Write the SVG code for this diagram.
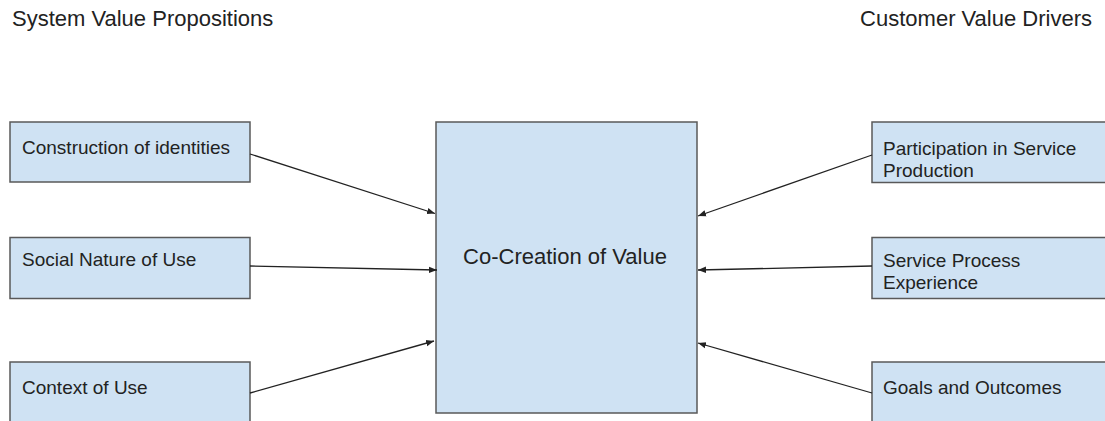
<svg xmlns="http://www.w3.org/2000/svg" width="1105" height="421" viewBox="0 0 1105 421">
<style>
.box{fill:#cfe2f3;stroke:#595959;stroke-width:1.5}
.t{font-family:"Liberation Sans",Arial,sans-serif;fill:#222}
.h{font-size:22px}
.b{font-size:19px}
.c{font-size:22px}
.conn{stroke:#222;stroke-width:1.3;fill:none;marker-end:url(#ah)}
</style>
<defs>
<marker id="ah" viewBox="0 0 10 10" refX="10" refY="5" markerWidth="8" markerHeight="8" markerUnits="userSpaceOnUse" orient="auto">
<path d="M0,1 L10,5 L0,9 z" fill="#222"/>
</marker>
</defs>
<rect width="1105" height="421" fill="#fff"/>
<text class="t h" x="12" y="26">System Value Propositions</text>
<text class="t h" x="1092" y="26" text-anchor="end">Customer Value Drivers</text>
<g id="n-construction"><rect class="box" x="10" y="122" width="240" height="60"/><text class="t b" x="22" y="154">Construction of identities</text></g>
<g id="n-social"><rect class="box" x="10" y="237.5" width="240" height="61"/><text class="t b" x="22" y="265.5">Social Nature of Use</text></g>
<g id="n-context"><rect class="box" x="10" y="362" width="240" height="70"/><text class="t b" x="22" y="394">Context of Use</text></g>
<g id="n-center"><rect class="box" x="436" y="122" width="261" height="291"/><text class="t c" x="565" y="264" text-anchor="middle">Co-Creation of Value</text></g>
<g id="n-participation"><rect class="box" x="872" y="122" width="245" height="60.5"/><text class="t b" x="883" y="155">Participation in Service</text><text class="t b" x="883" y="177">Production</text></g>
<g id="n-process"><rect class="box" x="872" y="237.5" width="245" height="61"/><text class="t b" x="883" y="267">Service Process</text><text class="t b" x="883" y="289">Experience</text></g>
<g id="n-goals"><rect class="box" x="872" y="362" width="245" height="70"/><text class="t b" x="883" y="394">Goals and Outcomes</text></g>
<g id="connectors">
<line class="conn" x1="250" y1="154" x2="435" y2="213.5"/>
<line class="conn" x1="250" y1="266" x2="437" y2="270"/>
<line class="conn" x1="250" y1="393" x2="434" y2="341"/>
<line class="conn" x1="872" y1="155" x2="698" y2="216"/>
<line class="conn" x1="872" y1="266" x2="698" y2="270"/>
<line class="conn" x1="872" y1="393" x2="698" y2="343"/>
</g>
</svg>
